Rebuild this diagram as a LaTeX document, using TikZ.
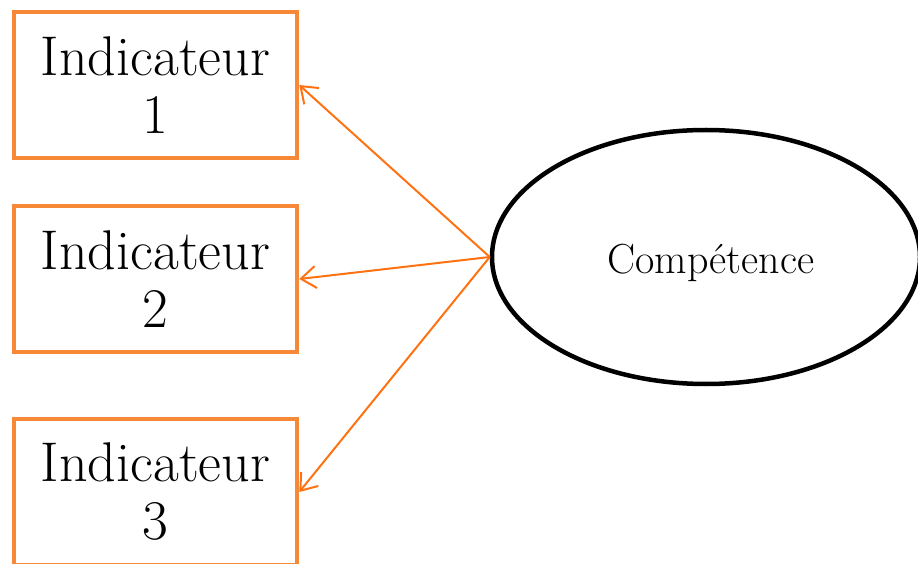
\documentclass[tikz,border=0pt]{standalone}
\usepackage{tikz}
\usetikzlibrary{arrows.meta, shapes.geometric}
\definecolor{boxorange}{RGB}{246,136,56}
\definecolor{linkorange}{RGB}{255,114,18}

\begin{document}
\begin{tikzpicture}
                \tikzset{x=1pt, y=1pt}
                \tikzstyle{indic}=[rectangle, draw=boxorange, line width=4.5pt, minimum width=283pt, minimum height=146pt, align=center, font=\fontsize{56}{58}\selectfont, inner sep=0pt]
                \tikzstyle{latent}=[ellipse, draw, line width=4.5pt, minimum width=428pt, minimum height=254pt, font=\fontsize{42}{46}\selectfont]
                \tikzstyle{link}=[draw=linkorange, line width=2pt, -{Straight Barb[length=15pt, width=22pt, line width=2pt]}]

                \useasboundingbox (0, 0) rectangle (918, 563);
                \clip (0, 0) rectangle (918, 563);

                \draw (155.5, 478.0)  node[indic]   (ind1)  {Indicateur\\1};
                \draw (155.5, 284.0)  node[indic]   (ind2)  {Indicateur\\2};
                \draw (155.5,  71.0)  node[indic]   (ind3)  {Indicateur\\3};

                \draw (706.0, 306.0)  node[latent]  (comp)  {};
                \draw (711.0, 300.0)  node          (lbl)   {\fontsize{42}{46}\selectfont Compétence};

                \draw [link]          (comp.west) -- (ind1.east);
                \draw [link]          (comp.west) -- (ind2.east);
                \draw [link]          (comp.west) -- (ind3.east);
            \end{tikzpicture}
\end{document}
